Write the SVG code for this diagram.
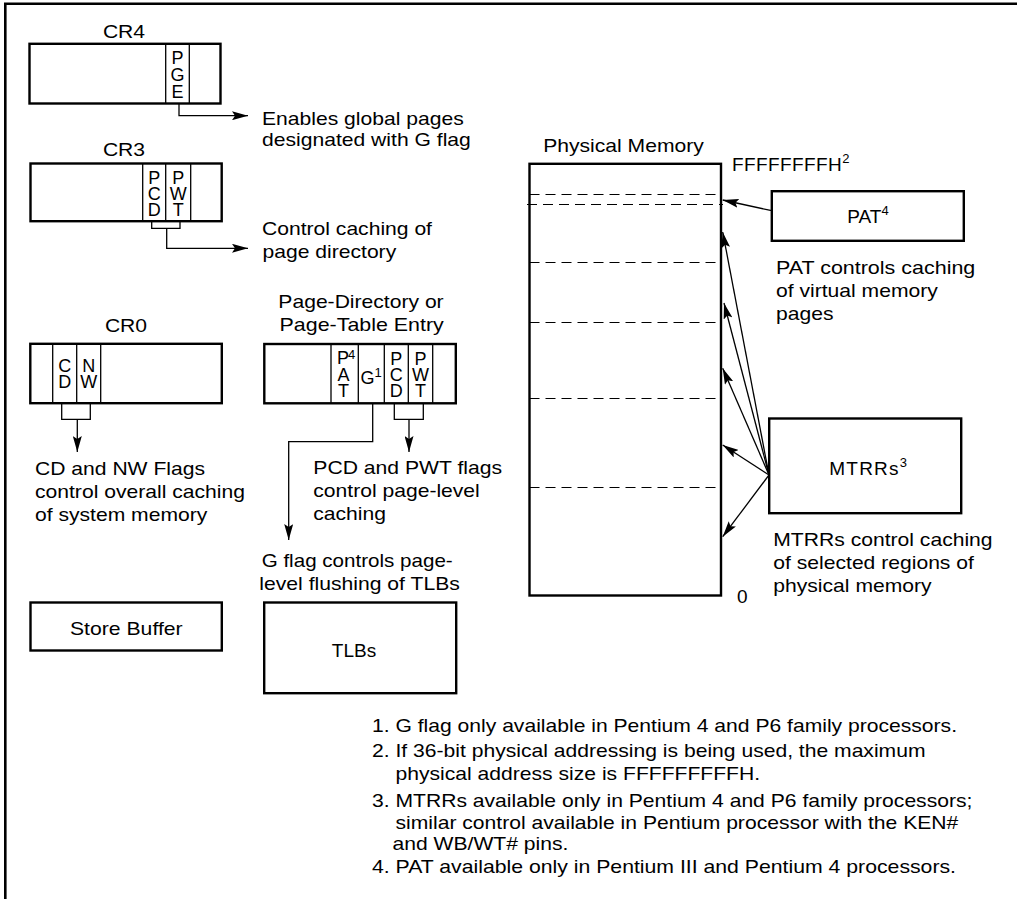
<svg xmlns="http://www.w3.org/2000/svg" width="1017" height="899" viewBox="0 0 1017 899">
<defs>
<marker id="ah" viewBox="0 0 16 9" refX="16" refY="4.5" markerWidth="16" markerHeight="9" markerUnits="userSpaceOnUse" orient="auto">
<path d="M0,0 L16,4.5 L0,9 L3,4.5 z" fill="#000"/>
</marker>
<style>
text { font-family: "Liberation Sans", Arial, sans-serif; font-size: 19px; fill: #000; }
.box { fill: #fff; stroke: #000; stroke-width: 2.4; }
.cell { stroke: #000; stroke-width: 1.3; fill: none; }
.conn { fill: none; stroke: #000; stroke-width: 1.3; }
.arr { marker-end: url(#ah); }
.dash { stroke: #000; stroke-width: 1.1; stroke-dasharray: 10 6; fill: none; }
.c { text-anchor: middle; }
.f { font-size: 18px; }
.sup { font-size: 13px; }
.frame { fill: none; stroke: #000; stroke-width: 2.6; }
</style>
</defs>
<rect x="0" y="0" width="1017" height="899" fill="#fff"/>
<path class="frame" d="M5.3,899 V3.8 H1017"/>

<g id="cr4">
<text x="124" y="38" class="c" textLength="42.2" lengthAdjust="spacingAndGlyphs">CR4</text>
<rect class="box" x="29.5" y="43.8" width="191" height="59.7"/>
<path class="cell" d="M165.7,43.8 V103.5 M189.3,43.8 V103.5"/>
<text class="c f"><tspan x="177.5" y="64">P</tspan><tspan x="177.5" y="81">G</tspan><tspan x="177.5" y="98">E</tspan></text>
</g>

<g id="cr3">
<text x="124" y="156" class="c" textLength="42.2" lengthAdjust="spacingAndGlyphs">CR3</text>
<rect class="box" x="30.5" y="163.5" width="191.2" height="57.7"/>
<path class="cell" d="M142.7,163.5 V221.2 M165.7,163.5 V221.2 M190.7,163.5 V221.2"/>
<text class="c f"><tspan x="154.2" y="184">P</tspan><tspan x="154.2" y="200">C</tspan><tspan x="154.2" y="215.5">D</tspan></text>
<text class="c f"><tspan x="178.2" y="184">P</tspan><tspan x="178.2" y="200">W</tspan><tspan x="178.2" y="215.5">T</tspan></text>
</g>

<g id="cr0">
<text x="126" y="332" class="c" textLength="42.2" lengthAdjust="spacingAndGlyphs">CR0</text>
<rect class="box" x="30.3" y="343.8" width="191.5" height="59.4"/>
<path class="cell" d="M52.7,343.8 V403.2 M76.7,343.8 V403.2 M100.7,343.8 V403.2"/>
<text class="c f"><tspan x="64.7" y="371.7">C</tspan><tspan x="64.7" y="388">D</tspan></text>
<text class="c f"><tspan x="88.7" y="371.7">N</tspan><tspan x="88.7" y="388">W</tspan></text>
</g>

<g id="pde">
<text x="361" y="307.5" class="c" textLength="165.3" lengthAdjust="spacingAndGlyphs">Page-Directory or</text>
<text x="361.7" y="331" class="c" textLength="164.2" lengthAdjust="spacingAndGlyphs">Page-Table Entry</text>
<rect class="box" x="264.3" y="344" width="191.5" height="59.3"/>
<path class="cell" d="M331,344 V403.3 M358.3,344 V403.3 M384.3,344 V403.3 M408.3,344 V403.3 M432.7,344 V403.3"/>
<text class="f"><tspan x="337" y="364">P</tspan><tspan class="sup" x="348" y="359">4</tspan><tspan x="337.5" y="381">A</tspan><tspan x="338" y="397">T</tspan></text>
<text x="360.5" y="384" class="f">G<tspan class="sup" dy="-7">1</tspan></text>
<text class="c f"><tspan x="396.3" y="365">P</tspan><tspan x="396.3" y="381">C</tspan><tspan x="396.3" y="397">D</tspan></text>
<text class="c f"><tspan x="420.5" y="365">P</tspan><tspan x="420.5" y="381">W</tspan><tspan x="420.5" y="397">T</tspan></text>
</g>

<g id="store-buffer">
<rect class="box" x="30.5" y="602.5" width="191.3" height="48"/>
<text x="126.3" y="635" class="c" textLength="112.6" lengthAdjust="spacingAndGlyphs">Store Buffer</text>
</g>

<g id="tlbs">
<rect class="box" x="264.2" y="602.5" width="192" height="90.7"/>
<text x="354" y="657" class="c">TLBs</text>
</g>

<g id="physical-memory">
<text x="623.5" y="151.7" class="c" textLength="160.6" lengthAdjust="spacingAndGlyphs">Physical Memory</text>
<rect class="box" x="529.5" y="163.8" width="191.5" height="431.7"/>
<path class="dash" d="M529.5,194.5 H722 M527,204.5 H723 M529.5,262.5 H721 M529.5,322.5 H721 M529.5,398.5 H721 M529.5,487.5 H721"/>
<text x="732" y="170.5" letter-spacing="0.4">FFFFFFFFH<tspan class="sup" dy="-8" letter-spacing="0">2</tspan></text>
<text x="737" y="603">0</text>
</g>

<g id="pat">
<rect class="box" x="771.8" y="191.2" width="192" height="49.6"/>
<text x="847.3" y="223">PAT<tspan class="sup" dy="-8">4</tspan></text>
</g>

<g id="mtrrs">
<rect class="box" x="769.2" y="418.5" width="192" height="94.7"/>
<text x="829.3" y="475" letter-spacing="1.2">MTRRs<tspan class="sup" dy="-8" letter-spacing="0">3</tspan></text>
</g>

<g id="connectors">
<path class="conn arr" d="M179,103.5 V115.7 H248"/>
<path class="conn" d="M151.7,221.2 V228.3 H180 V221.2"/>
<path class="conn arr" d="M166.7,228.3 V248.3 H248"/>
<path class="conn" d="M61.7,403.2 V419.3 H90.3 V403.2"/>
<path class="conn arr" d="M77.3,419.3 V452"/>
<path class="conn" d="M394.3,403.3 V419.3 H423.3 V403.3"/>
<path class="conn arr" d="M409,419.3 V452"/>
<path class="conn arr" d="M372.7,403.3 V441.7 H288.7 V540"/>
<path class="conn arr" d="M771.8,210.7 L722.7,200"/>
<path class="conn arr" d="M769,475 L722.7,232"/>
<path class="conn arr" d="M769,475 L724,303"/>
<path class="conn arr" d="M769,475 L722.7,368.3"/>
<path class="conn arr" d="M769,475 L722.7,445"/>
<path class="conn arr" d="M769,475 L722.7,536.7"/>
</g>

<g id="labels">
<text x="262" y="125" textLength="201.7" lengthAdjust="spacingAndGlyphs">Enables global pages</text>
<text x="262" y="145.5" textLength="208.8" lengthAdjust="spacingAndGlyphs">designated with G flag</text>
<text x="262" y="235" textLength="170" lengthAdjust="spacingAndGlyphs">Control caching of</text>
<text x="262.5" y="258" textLength="133.7" lengthAdjust="spacingAndGlyphs">page directory</text>
<text x="776" y="274" textLength="199.3" lengthAdjust="spacingAndGlyphs">PAT controls caching</text>
<text x="776" y="296.7" textLength="161.8" lengthAdjust="spacingAndGlyphs">of virtual memory</text>
<text x="776" y="319.5" textLength="57.5" lengthAdjust="spacingAndGlyphs">pages</text>
<text x="773.3" y="546" textLength="219.3" lengthAdjust="spacingAndGlyphs">MTRRs control caching</text>
<text x="773.3" y="568.7" textLength="200.6" lengthAdjust="spacingAndGlyphs">of selected regions of</text>
<text x="773.3" y="592" textLength="158.3" lengthAdjust="spacingAndGlyphs">physical memory</text>
<text x="35" y="475" textLength="170" lengthAdjust="spacingAndGlyphs">CD and NW Flags</text>
<text x="35" y="497.5" textLength="209.9" lengthAdjust="spacingAndGlyphs">control overall caching</text>
<text x="35" y="520.5" textLength="172.3" lengthAdjust="spacingAndGlyphs">of system memory</text>
<text x="313.3" y="474" textLength="188.8" lengthAdjust="spacingAndGlyphs">PCD and PWT flags</text>
<text x="313.3" y="497" textLength="166.5" lengthAdjust="spacingAndGlyphs">control page-level</text>
<text x="313.3" y="520" textLength="72.7" lengthAdjust="spacingAndGlyphs">caching</text>
<text x="261.7" y="566.7" textLength="191" lengthAdjust="spacingAndGlyphs">G flag controls page-</text>
<text x="259.3" y="590" textLength="200.5" lengthAdjust="spacingAndGlyphs">level flushing of TLBs</text>
</g>

<g id="footnotes">
<text x="372" y="732" textLength="585" lengthAdjust="spacingAndGlyphs">1. G flag only available in Pentium 4 and P6 family processors.</text>
<text x="372" y="757" textLength="553.5" lengthAdjust="spacingAndGlyphs">2. If 36-bit physical addressing is being used, the maximum</text>
<text x="395.5" y="780" textLength="364.6" lengthAdjust="spacingAndGlyphs">physical address size is FFFFFFFFFH.</text>
<text x="372" y="807" textLength="600.4" lengthAdjust="spacingAndGlyphs">3. MTRRs available only in Pentium 4 and P6 family processors;</text>
<text x="395.5" y="828.5" textLength="562.8" lengthAdjust="spacingAndGlyphs">similar control available in Pentium processor with the KEN#</text>
<text x="392.5" y="850" textLength="175.9" lengthAdjust="spacingAndGlyphs">and WB/WT# pins.</text>
<text x="372" y="873" textLength="584" lengthAdjust="spacingAndGlyphs">4. PAT available only in Pentium III and Pentium 4 processors.</text>
</g>
</svg>
